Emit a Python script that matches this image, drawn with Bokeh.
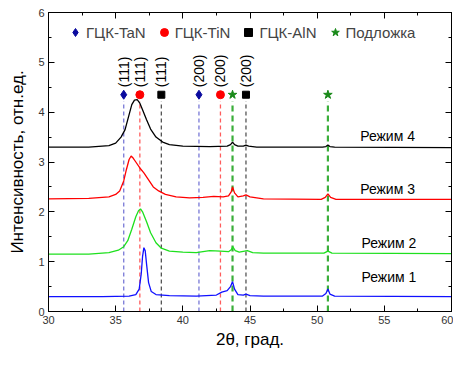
import math
from bokeh.plotting import figure
from bokeh.models import (LinearAxis, SingleIntervalTicker, Range1d, Legend,
                          LegendItem, CustomJSTickFormatter)
from bokeh.core.properties import value
from bokeh.embed import file_html
from bokeh.resources import INLINE

# ---------------- data ----------------
# Режим 4 (black)
r4_x = [30, 33, 34.5, 35.0, 35.4, 35.7, 36.0, 36.2, 36.4, 36.6, 36.8, 37.0, 37.3, 37.6,
        38.0, 38.5, 39.0, 40, 42, 43.3, 43.55, 43.7, 43.85, 44.1, 44.5, 44.7, 44.9, 45.5,
        50.4, 50.65, 50.8, 50.95, 51.3, 60]
r4_y = [3.30, 3.30, 3.33, 3.38, 3.50, 3.65, 3.95, 4.15, 4.24, 4.25, 4.18, 4.05, 3.85, 3.66,
        3.50, 3.40, 3.35, 3.32, 3.31, 3.32, 3.35, 3.40, 3.35, 3.32, 3.32, 3.34, 3.32, 3.30,
        3.30, 3.31, 3.34, 3.31, 3.30, 3.29]
# Режим 3 (red)
r3_x = [30, 33, 34.5, 35.0, 35.3, 35.6, 35.8, 36.0, 36.15, 36.3, 36.5, 36.8, 37.1, 37.4,
        37.8, 38.2, 38.7, 39.5, 40.5, 41.5, 42.3, 43.0, 43.4, 43.6, 43.7, 43.85, 44.1, 44.5,
        44.7, 45.0, 46, 50.3, 50.6, 50.8, 51.0, 51.4, 60]
r3_y = [2.26, 2.27, 2.30, 2.35, 2.42, 2.62, 2.85, 3.05, 3.12, 3.08, 3.00, 2.88, 2.78, 2.66,
        2.50, 2.42, 2.35, 2.30, 2.28, 2.29, 2.31, 2.30, 2.32, 2.40, 2.50, 2.38, 2.30, 2.32,
        2.34, 2.30, 2.26, 2.25, 2.29, 2.36, 2.29, 2.25, 2.25]
# Режим 2 (green)
r2_x = [30, 33, 34.5, 35.2, 35.6, 35.9, 36.2, 36.5, 36.7, 36.85, 37.0, 37.3, 37.6, 38.0,
        38.4, 39.0, 40, 41, 42.0, 42.8, 43.4, 43.6, 43.72, 43.9, 44.2, 44.6, 44.8, 45.2,
        46, 50.5, 50.8, 51.1, 60]
r2_y = [1.15, 1.15, 1.18, 1.23, 1.30, 1.42, 1.65, 1.90, 2.02, 2.06, 2.00, 1.80, 1.58, 1.38,
        1.27, 1.21, 1.19, 1.18, 1.22, 1.21, 1.20, 1.24, 1.30, 1.22, 1.19, 1.21, 1.22, 1.18,
        1.17, 1.17, 1.21, 1.17, 1.16]
# Режим 1 (blue)
r1_x = [30, 34, 36.0, 36.5, 36.75, 36.9, 37.0, 37.1, 37.2, 37.3, 37.45, 37.65, 38.0, 39,
        41, 42.5, 42.9, 43.3, 43.55, 43.7, 43.85, 44.1, 44.5, 44.7, 45.0, 46, 50.4, 50.65,
        50.8, 50.95, 51.3, 60]
r1_y = [0.30, 0.30, 0.31, 0.34, 0.45, 0.75, 1.10, 1.28, 1.22, 0.95, 0.58, 0.40, 0.34, 0.32,
        0.31, 0.33, 0.39, 0.42, 0.50, 0.60, 0.45, 0.34, 0.33, 0.35, 0.32, 0.31, 0.31, 0.36,
        0.45, 0.35, 0.31, 0.30]

# reference peak positions (2θ) and Miller indices
tan_pos = [35.6, 41.2]
tin_pos = [36.8, 42.8]
aln_pos = [38.4, 44.7]
sub_pos = [43.7, 50.8]
tan_hkl = ["(111)", "(200)"]
tin_hkl = ["(111)", "(200)"]
aln_hkl = ["(111)", "(200)"]
phase_names = ["ГЦК-TaN", "ГЦК-TiN", "ГЦК-AlN", "Подложка"]

regime_names = ["Режим 1", "Режим 2", "Режим 3", "Режим 4"]
regime_label_x = [53.3, 53.3, 53.2, 53.2]
regime_label_y = [0.70, 1.38, 2.46, 3.53]

FONT = "Liberation Sans"
line_top = 4.22
marker_y = 4.35
hkl_y = 4.5

# ---------------- figure ----------------
p = figure(width=453, height=351, x_range=Range1d(30, 60), y_range=Range1d(0, 6),
           output_backend="svg", toolbar_location=None,
           min_border_left=48, min_border_right=2, min_border_top=12, min_border_bottom=36)
p.grid.visible = False
p.outline_line_color = "black"
p.outline_line_width = 1
p.background_fill_color = "white"
p.border_fill_color = "white"

p.xaxis.ticker = SingleIntervalTicker(interval=5, num_minor_ticks=2)
p.yaxis.ticker = SingleIntervalTicker(interval=1, num_minor_ticks=2)


def style_axis(ax, show_labels=True):
    ax.major_tick_in = 6
    ax.major_tick_out = 0
    ax.minor_tick_in = 3
    ax.minor_tick_out = 0
    ax.axis_line_color = "black"
    ax.major_tick_line_color = "black"
    ax.minor_tick_line_color = "black"
    ax.major_label_text_font = FONT
    ax.major_label_text_color = "#333333"
    ax.major_label_text_font_size = "11px"
    ax.axis_label_text_font = FONT
    ax.axis_label_text_font_style = "normal"
    ax.axis_label_text_color = "black"
    if show_labels:
        ax.major_label_standoff = 4
    else:
        ax.formatter = CustomJSTickFormatter(code="return ''")
        ax.major_label_standoff = 0


style_axis(p.xaxis[0])
style_axis(p.yaxis[0])
p.xaxis.axis_label = "2θ, град."
p.yaxis.axis_label = "Интенсивность, отн.ед."
p.xaxis.axis_label_text_font_size = "17px"
p.yaxis.axis_label_text_font_size = "17px"
p.xaxis.axis_label_standoff = 3
p.yaxis.axis_label_standoff = 8

top_ax = LinearAxis(ticker=SingleIntervalTicker(interval=5, num_minor_ticks=2))
right_ax = LinearAxis(ticker=SingleIntervalTicker(interval=1, num_minor_ticks=2))
style_axis(top_ax, False)
style_axis(right_ax, False)
p.add_layout(top_ax, "above")
p.add_layout(right_ax, "right")

# reference dashed lines
p.segment(x0=tan_pos, y0=0, x1=tan_pos, y1=line_top, line_color="#7878d6",
          line_width=1.3, line_dash="4 3")
p.segment(x0=tin_pos, y0=0, x1=tin_pos, y1=line_top, line_color="#ff5c5c",
          line_width=1.3, line_dash="4 3")
p.segment(x0=aln_pos, y0=0, x1=aln_pos, y1=line_top, line_color="#555555",
          line_width=1.3, line_dash="4 3")
p.segment(x0=sub_pos, y0=0, x1=sub_pos, y1=line_top, line_color="#3aae3a",
          line_width=2.2, line_dash="6 4")

# curves
p.line(r4_x, r4_y, line_color="black", line_width=1.3)
p.line(r3_x, r3_y, line_color="#ff0000", line_width=1.3)
p.line(r2_x, r2_y, line_color="#1ee01e", line_width=1.3)
p.line(r1_x, r1_y, line_color="#1010ff", line_width=1.3)

# phase markers
m_tan = p.scatter(tan_pos, [marker_y] * len(tan_pos), marker="diamond", size=9,
                  color="#0a0a9e")
m_tin = p.scatter(tin_pos, [marker_y] * len(tin_pos), marker="circle", size=8,
                  color="#ff0000")
m_aln = p.scatter(aln_pos, [marker_y] * len(aln_pos), marker="square", size=7,
                  color="black")
m_sub = p.scatter(sub_pos, [marker_y] * len(sub_pos), marker="star", size=9,
                  color="#1a8a1a")

# Miller index labels
for pos, hkl in ((tan_pos, tan_hkl), (tin_pos, tin_hkl), (aln_pos, aln_hkl)):
    p.text(x=pos, y=[hkl_y] * len(pos), text=hkl, angle=math.pi / 2,
           text_align="left", text_baseline="middle", text_font=value(FONT),
           text_font_size="14px", text_color="black")

# regime labels
p.text(x=regime_label_x, y=regime_label_y, text=regime_names, text_align="left",
       text_baseline="middle", text_font=value(FONT), text_font_size="14px",
       text_color="black")

legend = Legend(items=[LegendItem(label=phase_names[0], renderers=[m_tan]),
                       LegendItem(label=phase_names[1], renderers=[m_tin]),
                       LegendItem(label=phase_names[2], renderers=[m_aln]),
                       LegendItem(label=phase_names[3], renderers=[m_sub])],
                orientation="horizontal", location=(17, 269),
                border_line_color=None, background_fill_alpha=0,
                glyph_width=20, glyph_height=20, label_standoff=1, spacing=8,
                padding=0, margin=0, label_text_font=FONT,
                label_text_font_size="15px")
p.add_layout(legend, "center")

open("out.html", "w").write(file_html(p, INLINE))
